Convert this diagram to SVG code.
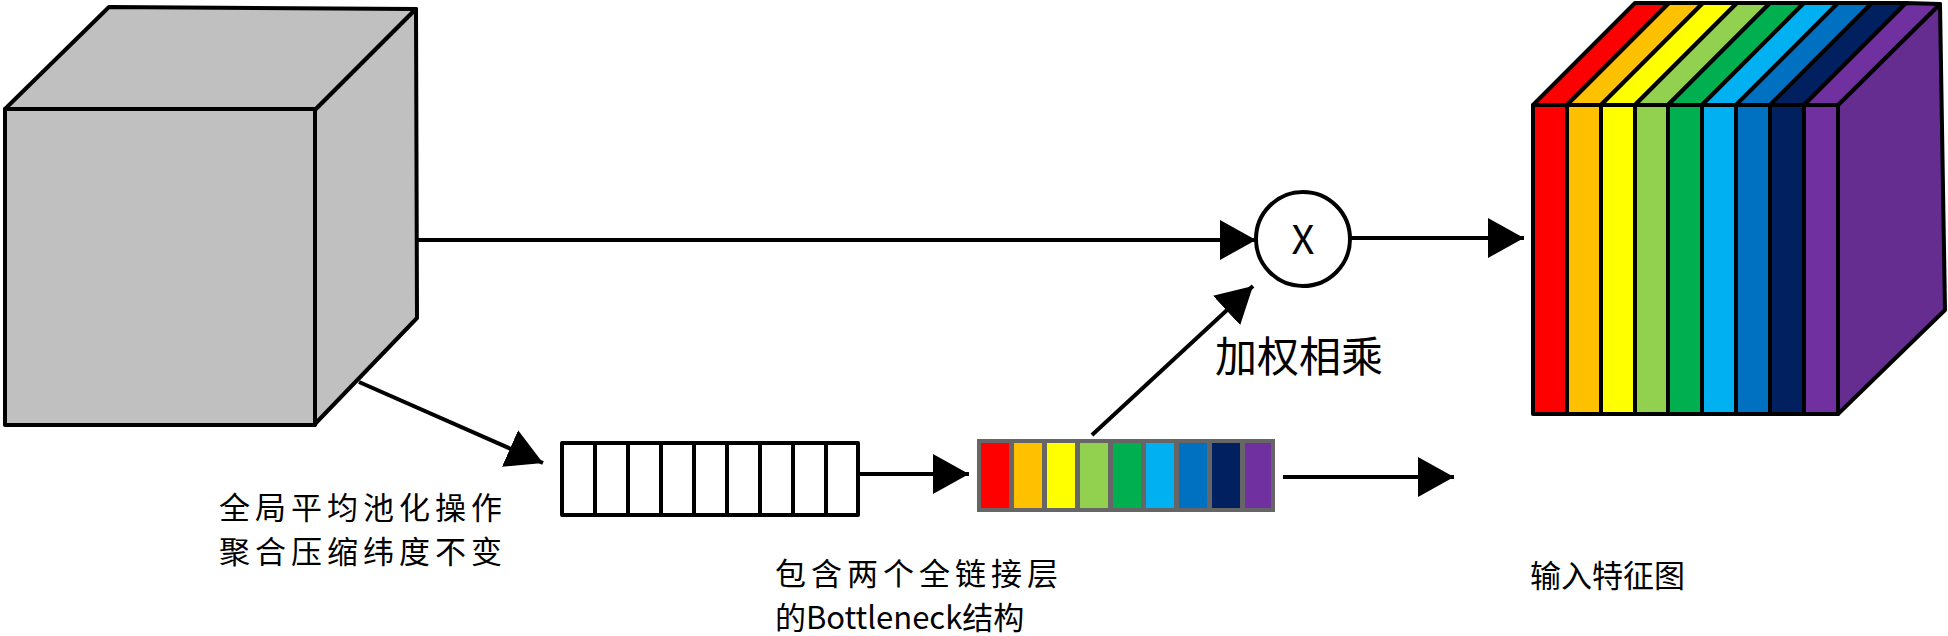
<svg xmlns="http://www.w3.org/2000/svg" width="1948" height="636" viewBox="0 0 1948 636">
<style>
.o{stroke:#000;stroke-width:4;stroke-linejoin:round}
.ln{stroke:#000;stroke-width:4;fill:none}
.t{font-family:"Noto Sans CJK SC","Noto Sans",sans-serif;fill:#000}
.s{font-size:31px}
</style>
<defs>
<marker id="a" markerWidth="36" markerHeight="40" refX="36" refY="20" orient="auto" markerUnits="userSpaceOnUse">
<path d="M0,0 L36,20 L0,40 Z" fill="#000"/>
</marker>
</defs>
<rect width="1948" height="636" fill="#fff"/>
<g id="input-cube">
<path class="o" fill="#C0C0C0" d="M5,109 L109,7 L416,9 L315,110 Z"/>
<path class="o" fill="#C0C0C0" d="M315,110 L416,9 L417,318 L314,425 Z"/>
<rect class="o" fill="#C0C0C0" x="5" y="109" width="310" height="316"/>
</g>
<g id="pool-vector">
<rect class="o" fill="#fff" x="562" y="443" width="296" height="72"/>
<path class="ln" d="M595,443V515M628,443V515M661,443V515M694,443V515M727,443V515M760,443V515M793,443V515M826,443V515"/>
</g>
<g id="weight-vector">
<rect x="977" y="439" width="298" height="73" fill="#666"/>
<rect x="981" y="443" width="28" height="65" fill="#FF0000"/>
<rect x="1014" y="443" width="28" height="65" fill="#FFC000"/>
<rect x="1047" y="443" width="28" height="65" fill="#FFFF00"/>
<rect x="1080" y="443" width="28" height="65" fill="#92D050"/>
<rect x="1113" y="443" width="28" height="65" fill="#00B050"/>
<rect x="1146" y="443" width="28" height="65" fill="#00B0F0"/>
<rect x="1179" y="443" width="28" height="65" fill="#0070C0"/>
<rect x="1212" y="443" width="28" height="65" fill="#002060"/>
<rect x="1245" y="443" width="26" height="65" fill="#7030A0"/>
</g>
<g id="multiply">
<circle class="o" fill="#fff" cx="1303" cy="239" r="47"/>
<text class="t" x="1303" y="254" font-size="40" text-anchor="middle">X</text>
</g>
<g id="output-cube">
<path class="o" fill="#662D91" d="M1838,105 L1940,4 L1945,310 L1838,414 Z"/>
<g class="o">
<path fill="#FF0000" d="M1533,105 L1635,3 L1669,3 L1567,105 Z"/>
<path fill="#FFC000" d="M1567,105 L1669,3 L1703,3 L1601,105 Z"/>
<path fill="#FFFF00" d="M1601,105 L1703,3 L1737,3 L1635,105 Z"/>
<path fill="#92D050" d="M1635,105 L1737,3 L1770,3 L1668,105 Z"/>
<path fill="#00B050" d="M1668,105 L1770,3 L1804,3 L1702,105 Z"/>
<path fill="#00B0F0" d="M1702,105 L1804,3 L1838,3 L1736,105 Z"/>
<path fill="#0070C0" d="M1736,105 L1838,3 L1872,3 L1770,105 Z"/>
<path fill="#002060" d="M1770,105 L1872,3 L1906,3 L1804,105 Z"/>
<path fill="#7030A0" d="M1804,105 L1906,3 L1940,4 L1838,105 Z"/>
<rect fill="#FF0000" x="1533" y="105" width="34" height="309"/>
<rect fill="#FFC000" x="1567" y="105" width="34" height="309"/>
<rect fill="#FFFF00" x="1601" y="105" width="34" height="309"/>
<rect fill="#92D050" x="1635" y="105" width="33" height="309"/>
<rect fill="#00B050" x="1668" y="105" width="34" height="309"/>
<rect fill="#00B0F0" x="1702" y="105" width="34" height="309"/>
<rect fill="#0070C0" x="1736" y="105" width="34" height="309"/>
<rect fill="#002060" x="1770" y="105" width="34" height="309"/>
<rect fill="#7030A0" x="1804" y="105" width="34" height="309"/>
</g>
</g>
<g id="connectors">
<path class="ln" d="M416,240 H1256" marker-end="url(#a)"/>
<path class="ln" d="M359,382 L543,463" marker-end="url(#a)"/>
<path class="ln" d="M858,474 H969" marker-end="url(#a)"/>
<path class="ln" d="M1092,435 L1253,286" marker-end="url(#a)"/>
<path class="ln" d="M1350,238 H1524" marker-end="url(#a)"/>
<path class="ln" d="M1283,477 H1454" marker-end="url(#a)"/>
</g>
<g id="labels">
<text class="t s" x="219" y="519" textLength="283">全局平均池化操作</text>
<text class="t s" x="219" y="563" textLength="283">聚合压缩纬度不变</text>
<text class="t s" x="775" y="585" textLength="283">包含两个全链接层</text>
<text class="t s" x="775" y="629">的Bottleneck结构</text>
<text class="t" x="1215" y="372" font-size="42">加权相乘</text>
<text class="t s" x="1530" y="587">输入特征图</text>
</g>
</svg>
